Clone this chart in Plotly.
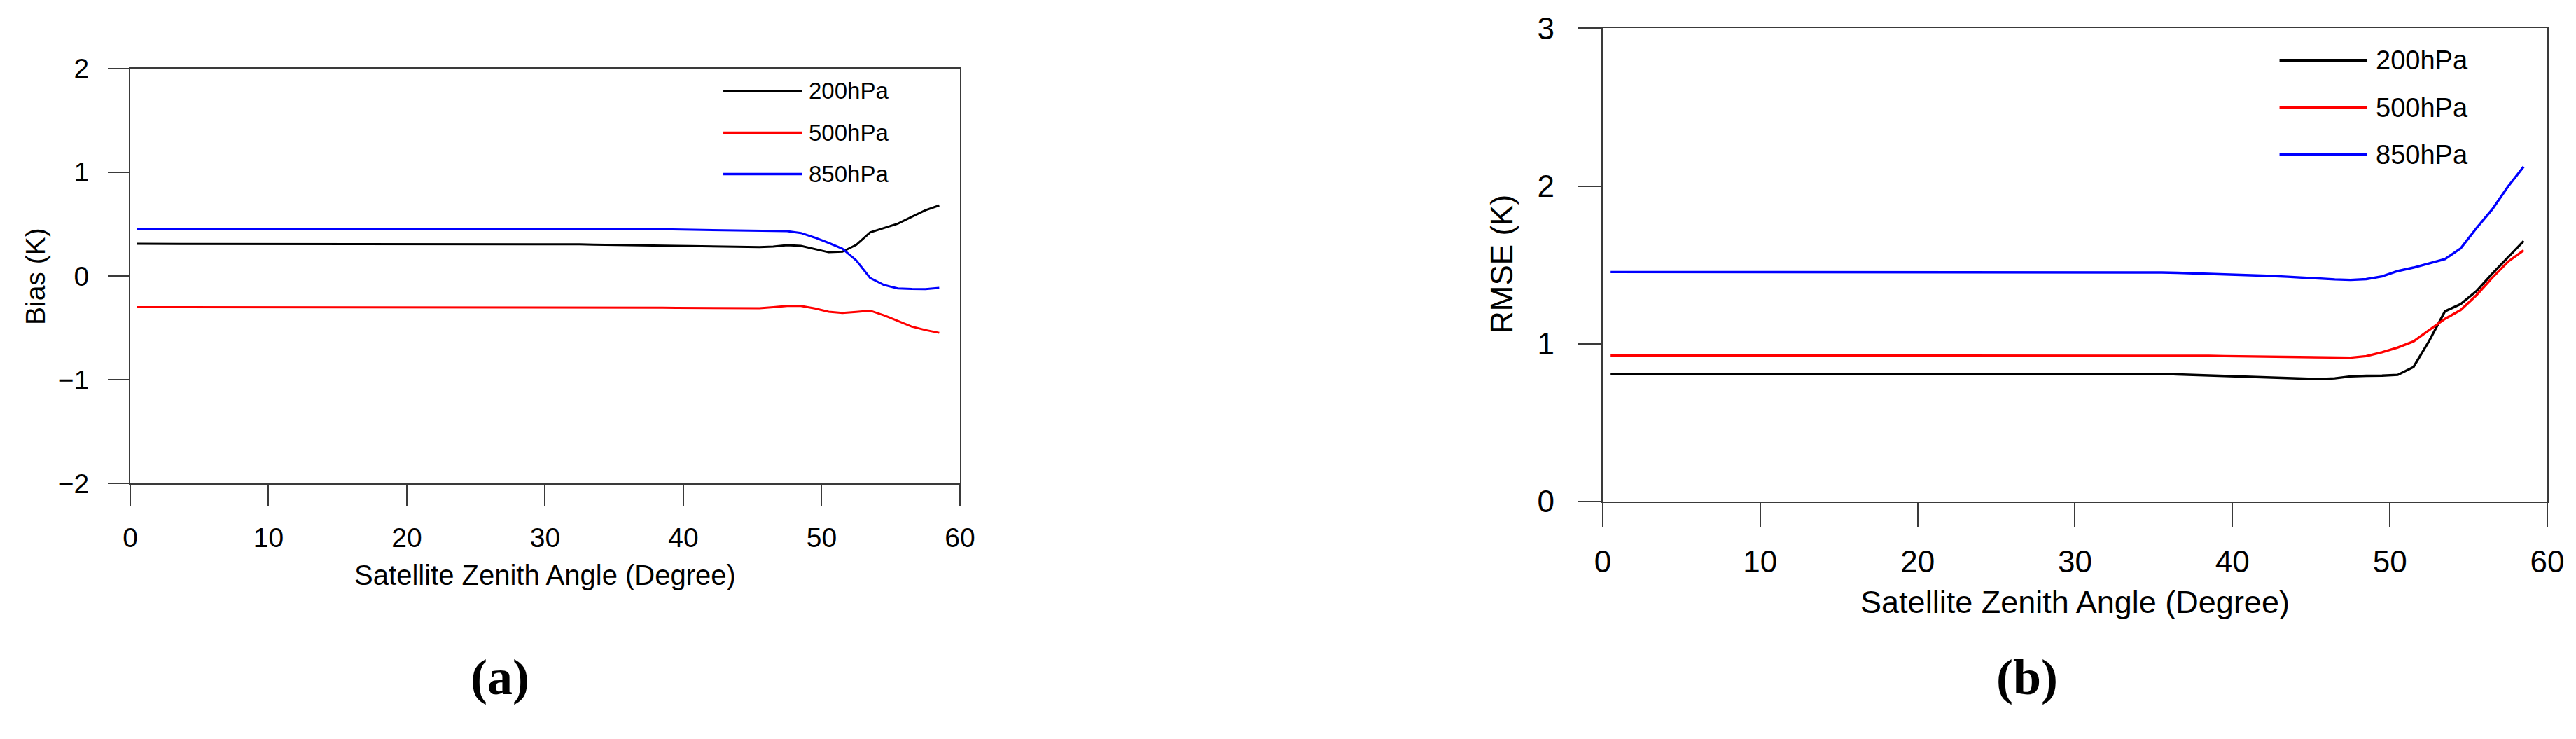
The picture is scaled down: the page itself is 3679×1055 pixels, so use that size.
import plotly.graph_objects as go

# ---------------- data ----------------
angles = [0.5, 1.5, 2.5, 3.5, 4.5, 5.5, 6.5, 7.5, 8.5, 9.5,
          10.5, 11.5, 12.5, 13.5, 14.5, 15.5, 16.5, 17.5, 18.5, 19.5,
          20.5, 21.5, 22.5, 23.5, 24.5, 25.5, 26.5, 27.5, 28.5, 29.5,
          30.5, 31.5, 32.5, 33.5, 34.5, 35.5, 36.5, 37.5, 38.5, 39.5,
          40.5, 41.5, 42.5, 43.5, 44.5, 45.5, 46.5, 47.5, 48.5, 49.5,
          50.5, 51.5, 52.5, 53.5, 54.5, 55.5, 56.5, 57.5, 58.5]

series_names = ["200hPa", "500hPa", "850hPa"]
series_colors = ["#000000", "#ff0000", "#0000ff"]

bias_200 = [0.31, 0.31, 0.31, 0.31, 0.31, 0.31, 0.31, 0.31, 0.31, 0.31,
            0.31, 0.31, 0.31, 0.31, 0.31, 0.31, 0.31, 0.31, 0.31, 0.31,
            0.31, 0.31, 0.31, 0.31, 0.31, 0.31, 0.31, 0.31, 0.31, 0.31,
            0.31, 0.305, 0.305, 0.303, 0.300, 0.300, 0.298, 0.295, 0.293, 0.290,
            0.288, 0.286, 0.284, 0.282, 0.280, 0.279, 0.283, 0.297, 0.290, 0.260,
            0.229, 0.234, 0.300, 0.420, 0.460, 0.504, 0.570, 0.634, 0.680]
bias_500 = [-0.30, -0.30, -0.30, -0.30, -0.30, -0.30, -0.30, -0.30, -0.30, -0.30,
            -0.30, -0.30, -0.30, -0.30, -0.30, -0.30, -0.30, -0.30, -0.30, -0.30,
            -0.30, -0.30, -0.30, -0.30, -0.30, -0.30, -0.30, -0.30, -0.30, -0.30,
            -0.30, -0.301, -0.301, -0.302, -0.302, -0.303, -0.303, -0.304, -0.305, -0.306,
            -0.307, -0.308, -0.309, -0.310, -0.310, -0.310, -0.300, -0.288, -0.288, -0.312,
            -0.344, -0.355, -0.345, -0.333, -0.378, -0.434, -0.486, -0.520, -0.547]
bias_850 = [0.455, 0.455, 0.455, 0.455, 0.455, 0.455, 0.455, 0.455, 0.455, 0.455,
            0.455, 0.455, 0.455, 0.455, 0.455, 0.455, 0.455, 0.455, 0.455, 0.455,
            0.455, 0.455, 0.455, 0.455, 0.455, 0.455, 0.457, 0.457, 0.457, 0.457,
            0.457, 0.457, 0.457, 0.457, 0.455, 0.454, 0.453, 0.452, 0.450, 0.448,
            0.446, 0.444, 0.441, 0.438, 0.436, 0.435, 0.433, 0.432, 0.414, 0.370,
            0.319, 0.263, 0.150, -0.018, -0.086, -0.119, -0.125, -0.126, -0.115]

rmse_200 = [0.81, 0.81, 0.81, 0.81, 0.81, 0.81, 0.81, 0.81, 0.81, 0.81,
            0.81, 0.81, 0.81, 0.81, 0.81, 0.81, 0.81, 0.81, 0.81, 0.81,
            0.81, 0.81, 0.81, 0.81, 0.81, 0.81, 0.81, 0.81, 0.81, 0.81,
            0.81, 0.81, 0.81, 0.81, 0.81, 0.81, 0.806, 0.803, 0.800, 0.797,
            0.794, 0.791, 0.788, 0.784, 0.780, 0.776, 0.781, 0.793, 0.797, 0.798,
            0.803, 0.853, 1.019, 1.206, 1.252, 1.334, 1.444, 1.546, 1.651]
rmse_500 = [0.926, 0.926, 0.926, 0.926, 0.926, 0.926, 0.926, 0.926, 0.926, 0.926,
            0.926, 0.926, 0.926, 0.926, 0.926, 0.926, 0.926, 0.926, 0.926, 0.926,
            0.926, 0.926, 0.926, 0.926, 0.926, 0.926, 0.926, 0.926, 0.926, 0.926,
            0.926, 0.926, 0.926, 0.926, 0.926, 0.926, 0.926, 0.926, 0.924, 0.922,
            0.921, 0.920, 0.919, 0.918, 0.917, 0.915, 0.913, 0.912, 0.922, 0.946,
            0.976, 1.015, 1.087, 1.158, 1.214, 1.308, 1.418, 1.520, 1.593]
rmse_850 = [1.455, 1.455, 1.455, 1.455, 1.455, 1.455, 1.455, 1.455, 1.455, 1.455,
            1.455, 1.455, 1.455, 1.455, 1.455, 1.455, 1.455, 1.455, 1.455, 1.455,
            1.455, 1.455, 1.455, 1.455, 1.455, 1.455, 1.455, 1.455, 1.455, 1.455,
            1.455, 1.455, 1.455, 1.455, 1.453, 1.452, 1.450, 1.447, 1.444, 1.440,
            1.437, 1.433, 1.430, 1.425, 1.419, 1.413, 1.408, 1.405, 1.410, 1.427,
            1.461, 1.483, 1.510, 1.537, 1.605, 1.733, 1.852, 1.996, 2.123]

x_ticks = [0, 10, 20, 30, 40, 50, 60]
bias_ticks = [-2, -1, 0, 1, 2]
rmse_ticks = [0, 1, 2, 3]
x_title = "Satellite Zenith Angle (Degree)"
bias_title = "Bias (K)"
rmse_title = "RMSE (K)"
panel_labels = ["(a)", "(b)"]

# ---------------- figure ----------------
# page body has an 8 px margin, so the figure is 16 px smaller than the window
W, H = 3663, 1039
fig = go.Figure()

bias_series = [bias_200, bias_500, bias_850]
rmse_series = [rmse_200, rmse_500, rmse_850]

for name, col, ys in zip(series_names, series_colors, bias_series):
    fig.add_trace(go.Scatter(x=angles, y=ys, mode="lines", name=name,
                             line=dict(color=col, width=3), showlegend=False,
                             xaxis="x", yaxis="y"))
for name, col, ys in zip(series_names, series_colors, rmse_series):
    fig.add_trace(go.Scatter(x=angles, y=ys, mode="lines", name=name,
                             line=dict(color=col, width=3.4), showlegend=False,
                             xaxis="x2", yaxis="y2"))

SANS = "Liberation Sans, Arial, Helvetica, sans-serif"
AX_COL = "#3a3a3a"

def axis_common(fs, tlen, lw):
    return dict(showgrid=False, zeroline=False, showline=True, mirror=True,
                automargin=False,
                linecolor=AX_COL, linewidth=lw, ticks="outside", ticklen=tlen,
                tickwidth=lw, tickcolor=AX_COL,
                tickfont=dict(family=SANS, size=fs, color="#000000"))

fsL, fsR = 39, 44
fig.update_layout(
    template="none",
    width=W, height=H, autosize=False,
    margin=dict(l=0, r=0, t=0, b=0, pad=0),
    paper_bgcolor="white", plot_bgcolor="white",
    showlegend=False,
    xaxis=dict(domain=[0.04859, 0.37210], range=[0, 60], tickvals=x_ticks,
               anchor="y", ticklabelstandoff=12,
               title=dict(text=x_title, font=dict(family=SANS, size=40, color="#000"), standoff=19),
               **axis_common(fsL, 30, 2)),
    yaxis=dict(domain=[0.34312, 0.91376], range=[-2, 2], tickvals=bias_ticks,
               anchor="x", ticklabelstandoff=19,
               **axis_common(fsL, 30, 2)),
    xaxis2=dict(domain=[0.62271, 0.99099], range=[0, 60], tickvals=x_ticks,
                anchor="y2", ticklabelstandoff=12,
                title=dict(text=x_title, font=dict(family=SANS, size=45, color="#000"), standoff=19),
                **axis_common(fsR, 34, 2.2)),
    yaxis2=dict(domain=[0.31858, 0.96882], range=[0, 3], tickvals=rmse_ticks,
                anchor="x2", ticklabelstandoff=24,
                **axis_common(fsR, 34, 2.2)),
)

# y-axis titles
for txt, px, py, fs in [(bias_title, 0.01147, 0.6275, 39), (rmse_title, 0.5834, 0.6449, 44)]:
    fig.add_annotation(xref="paper", yref="paper", x=px, y=py, text=txt,
                       textangle=-90, showarrow=False,
                       xanchor="center", yanchor="middle",
                       font=dict(family=SANS, size=fs, color="#000"))

# legends drawn inside each panel (long line samples as in the original)
legend_specs = [
    ("x", "y", [0.7148, 0.8101, 0.816], [0.9455, 0.8452, 0.7455], 33, 3.5),
    ("x2", "y2", [0.7165, 0.8095, 0.8169], [0.9325, 0.8324, 0.7327], 38, 4),
]
for xr, yr, xs, rows, fs, lw in legend_specs:
    for name, col, yy in zip(series_names, series_colors, rows):
        fig.add_shape(type="line", xref=f"{xr} domain", yref=f"{yr} domain",
                      x0=xs[0], x1=xs[1], y0=yy, y1=yy,
                      line=dict(color=col, width=lw))
        fig.add_annotation(xref=f"{xr} domain", yref=f"{yr} domain",
                           x=xs[2], y=yy, text=name, showarrow=False,
                           xanchor="left", yanchor="middle",
                           font=dict(family=SANS, size=fs, color="#000"))

# panel labels
for lab, px in zip(panel_labels, [0.19274, 0.78815]):
    fig.add_annotation(xref="paper", yref="paper", x=px, y=0.0769,
                       text=f"<b>{lab}</b>", showarrow=False,
                       xanchor="center", yanchor="middle",
                       font=dict(family="Liberation Serif, Times New Roman, serif",
                                 size=72, color="#000"))

fig.write_html("out.html")
